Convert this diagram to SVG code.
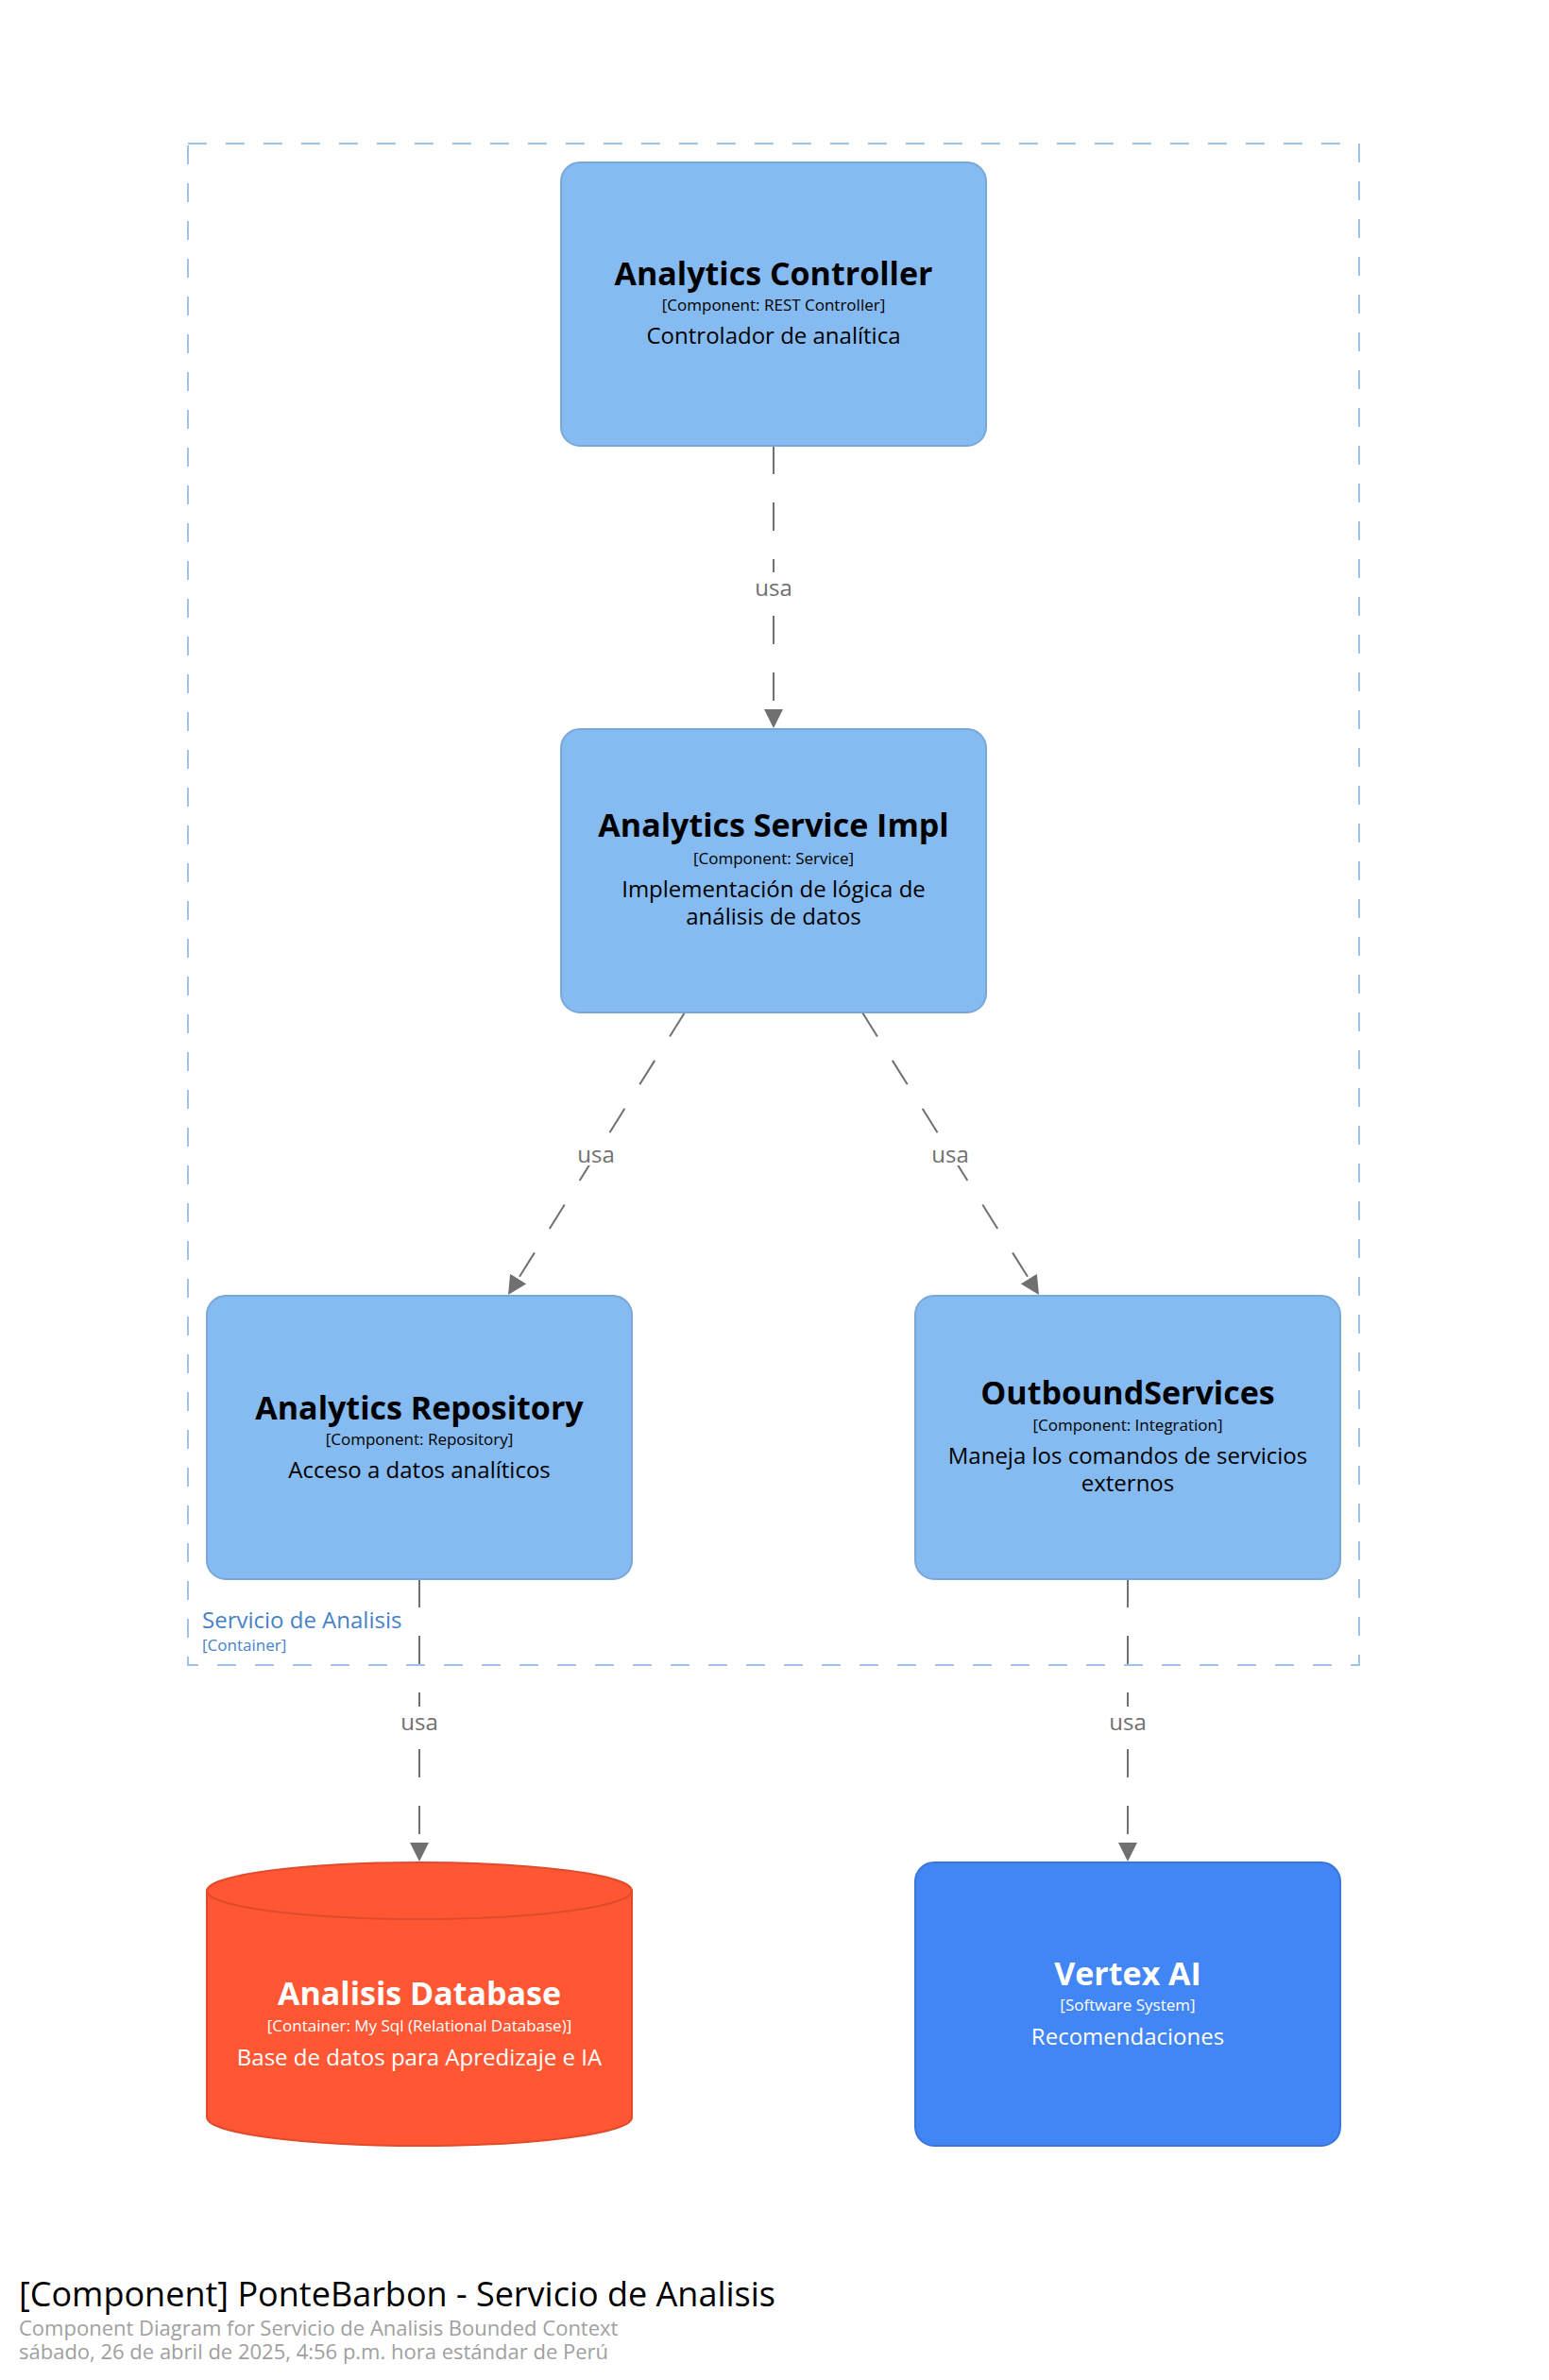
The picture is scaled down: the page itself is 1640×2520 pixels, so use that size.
<svg xmlns="http://www.w3.org/2000/svg" width="1640" height="2520" viewBox="0 0 1640 2520">
  <style>
    text { font-family: "Open Sans", "Noto Sans", "DejaVu Sans", sans-serif; text-anchor: middle; }
    .comp { fill: #85bbf0; stroke: #78a8d8; stroke-width: 2; }
    .name { font-size: 34px; font-weight: bold; fill: #000000; }
    .meta { font-size: 17px; fill: #000000; }
    .desc { font-size: 24px; fill: #000000; }
    .wname { font-size: 34px; font-weight: bold; fill: #ffffff; }
    .wmeta { font-size: 17px; fill: #ffffff; }
    .wdesc { font-size: 24px; fill: #ffffff; }
    .rel { stroke: #707070; stroke-width: 2; stroke-dasharray: 30 30; fill: none; }
    .rlabel { font-size: 24px; fill: #707070; }
    .lbg { fill: #ffffff; }
  </style>
  <defs>
    <marker id="arrow" viewBox="0 0 20 20" refX="20" refY="10" markerWidth="20" markerHeight="20" markerUnits="userSpaceOnUse" orient="auto">
      <path d="M0,0 L20,10 L0,20 Z" fill="#707070"/>
    </marker>
  </defs>

  <rect width="1640" height="2520" fill="#ffffff"/>

  <!-- container boundary -->
  <g id="boundary-servicio-analisis">
    <rect x="199" y="152" width="1240" height="1611" fill="none" stroke="#9fc3e7" stroke-width="2" stroke-dasharray="20 20"/>
    <text x="214" y="1724" style="text-anchor:start;font-size:24px;fill:#4682c8">Servicio de Analisis</text>
    <text x="214" y="1748" style="text-anchor:start;font-size:17px;fill:#4682c8">[Container]</text>
  </g>

  <!-- relationships -->
  <g id="connectors">
    <line class="rel" x1="819" y1="472" x2="819" y2="771" marker-end="url(#arrow)"/>
    <rect class="lbg" x="799" y="606" width="40" height="28"/>
    <text class="rlabel" x="819" y="631">usa</text>

    <line class="rel" x1="725" y1="1072" x2="538" y2="1371" marker-end="url(#arrow)"/>
    <rect class="lbg" x="611" y="1206" width="40" height="28"/>
    <text class="rlabel" x="631" y="1231">usa</text>

    <line class="rel" x1="913" y1="1072" x2="1100" y2="1371" marker-end="url(#arrow)"/>
    <rect class="lbg" x="986" y="1206" width="40" height="28"/>
    <text class="rlabel" x="1006" y="1231">usa</text>

    <line class="rel" x1="444" y1="1672" x2="444" y2="1971" marker-end="url(#arrow)"/>
    <rect class="lbg" x="424" y="1807" width="40" height="28"/>
    <text class="rlabel" x="444" y="1832">usa</text>

    <line class="rel" x1="1194" y1="1672" x2="1194" y2="1971" marker-end="url(#arrow)"/>
    <rect class="lbg" x="1174" y="1807" width="40" height="28"/>
    <text class="rlabel" x="1194" y="1832">usa</text>
  </g>

  <!-- components -->
  <g id="analytics-controller">
    <rect class="comp" x="594" y="172" width="450" height="300" rx="20" ry="20"/>
    <text class="name" x="819" y="302">Analytics Controller</text>
    <text class="meta" x="819" y="329">[Component: REST Controller]</text>
    <text class="desc" x="819" y="364">Controlador de analítica</text>
  </g>

  <g id="analytics-service-impl">
    <rect class="comp" x="594" y="772" width="450" height="300" rx="20" ry="20"/>
    <text class="name" x="819" y="886">Analytics Service Impl</text>
    <text class="meta" x="819" y="915">[Component: Service]</text>
    <text class="desc" x="819" y="950">Implementación de lógica de</text>
    <text class="desc" x="819" y="979">análisis de datos</text>
  </g>

  <g id="analytics-repository">
    <rect class="comp" x="219" y="1372" width="450" height="300" rx="20" ry="20"/>
    <text class="name" x="444" y="1503">Analytics Repository</text>
    <text class="meta" x="444" y="1530">[Component: Repository]</text>
    <text class="desc" x="444" y="1565">Acceso a datos analíticos</text>
  </g>

  <g id="outbound-services">
    <rect class="comp" x="969" y="1372" width="450" height="300" rx="20" ry="20"/>
    <text class="name" x="1194" y="1487">OutboundServices</text>
    <text class="meta" x="1194" y="1515">[Component: Integration]</text>
    <text class="desc" x="1194" y="1550">Maneja los comandos de servicios</text>
    <text class="desc" x="1194" y="1579">externos</text>
  </g>

  <!-- database container -->
  <g id="analisis-database">
    <path d="M219,2002 A225,30 0 0 1 669,2002 L669,2242 A225,30 0 0 1 219,2242 Z" fill="#ff5733" stroke="#e04b2b" stroke-width="2"/>
    <path d="M219,2002 A225,30 0 0 0 669,2002" fill="none" stroke="#e04b2b" stroke-width="2"/>
    <text class="wname" x="444" y="2123">Analisis Database</text>
    <text class="wmeta" x="444" y="2151">[Container: My Sql (Relational Database)]</text>
    <text class="wdesc" x="444" y="2187">Base de datos para Apredizaje e IA</text>
  </g>

  <!-- external system -->
  <g id="vertex-ai">
    <rect x="969" y="1972" width="450" height="300" rx="20" ry="20" fill="#4285f4" stroke="#3a76d8" stroke-width="2"/>
    <text class="wname" x="1194" y="2102">Vertex AI</text>
    <text class="wmeta" x="1194" y="2129">[Software System]</text>
    <text class="wdesc" x="1194" y="2165">Recomendaciones</text>
  </g>

  <!-- title block -->
  <g id="title">
    <text x="20" y="2442" style="text-anchor:start;font-size:36px;fill:#000000">[Component] PonteBarbon - Servicio de Analisis</text>
    <text x="20" y="2473" style="text-anchor:start;font-size:22px;fill:#a0a0a0">Component Diagram for Servicio de Analisis Bounded Context</text>
    <text x="20" y="2498" style="text-anchor:start;font-size:22px;fill:#a0a0a0">sábado, 26 de abril de 2025, 4:56 p.m. hora estándar de Perú</text>
  </g>
</svg>
